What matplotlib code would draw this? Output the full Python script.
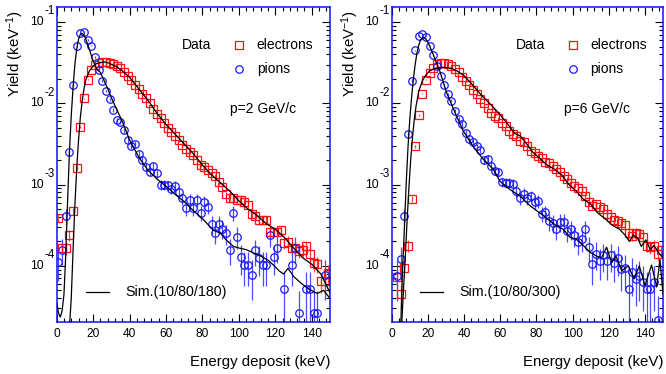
import matplotlib
matplotlib.use("Agg")
import matplotlib.pyplot as plt
import numpy as np
from matplotlib.ticker import MultipleLocator, LogLocator, NullFormatter

plt.rcParams["font.family"] = "Liberation Sans"
plt.rcParams["mathtext.fontset"] = "custom"
plt.rcParams["mathtext.rm"] = "Liberation Sans"
plt.rcParams["mathtext.it"] = "Liberation Sans:italic"

# bin centres in keV (2 keV bins)
bin_centres = np.arange(1, 150, 2)

# log10(yield), nan = bin below the frame
e_2gev_log = [
    -3.41, -3.78, -3.78, -3.62, -3.33, -2.80, -2.29, -1.94, -1.71, -1.59,
    -1.53, -1.50, -1.49, -1.49, -1.50, -1.52, -1.54, -1.57, -1.61, -1.66,
    -1.71, -1.77, -1.82, -1.88, -1.94, -2.00, -2.07, -2.13, -2.18, -2.24,
    -2.30, -2.35, -2.40, -2.45, -2.51, -2.56, -2.60, -2.64, -2.70, -2.76,
    -2.78, -2.82, -2.86, -2.90, -2.97, -3.03, -3.12, -3.16, -3.17, -3.19,
    -3.19, -3.22, -3.25, -3.36, -3.38, -3.44, -3.43, -3.44, -3.58, -3.58,
    -3.58, -3.56, -3.72, -3.70, -3.78, -3.78, -3.82, -3.80, -3.76, -3.85,
    -3.97, -3.98, -4.19, -4.19, -4.09,
]
pi_2gev_log = [
    -3.95, -3.80, -3.39, -2.60, -1.77, -1.30, -1.13, -1.12, -1.22, -1.29,
    -1.43, -1.59, -1.72, -1.85, -1.95, -2.08, -2.21, -2.23, -2.33, -2.45,
    -2.52, -2.50, -2.62, -2.70, -2.78, -2.84, -2.77, -2.86, -3.00, -3.00,
    -3.01, -3.05, -3.02, -3.09, -3.17, -3.29, -3.19, -3.29, -3.19, -3.35,
    -3.21, -3.27, -3.48, -3.59, -3.48, -3.54, -3.60, -3.80, -3.35, -3.64,
    -3.89, -3.99, -3.99, -4.11, -3.81, -3.90, -3.99, -3.99, -3.62, -3.89,
    -3.78, np.nan, -4.29, np.nan, -3.99, -3.78, -4.58, np.nan, -4.29, -4.29,
    -4.58, -4.58, np.nan, -4.11, np.nan,
]
e_6gev_log = [
    np.nan, -4.14, -4.35, -4.02, -3.75, -3.18, -2.53, -2.14, -1.88, -1.71,
    -1.63, -1.56, -1.52, -1.51, -1.51, -1.52, -1.54, -1.58, -1.62, -1.67,
    -1.73, -1.77, -1.83, -1.89, -1.95, -1.99, -2.06, -2.12, -2.16, -2.18,
    -2.24, -2.28, -2.34, -2.38, -2.40, -2.46, -2.48, -2.53, -2.59, -2.61,
    -2.65, -2.67, -2.72, -2.74, -2.77, -2.81, -2.85, -2.89, -2.93, -2.98,
    -3.02, -3.04, -3.08, -3.14, -3.22, -3.26, -3.24, -3.28, -3.30, -3.36,
    -3.40, -3.43, -3.45, -3.47, -3.50, -3.59, -3.63, -3.59, -3.61, -3.65,
    -3.75, -3.77, -3.75, -3.85, -3.81,
]
pi_6gev_log = [
    np.nan, -4.12, -3.92, -3.38, -2.38, -1.72, -1.35, -1.17, -1.15, -1.18,
    -1.29, -1.41, -1.54, -1.66, -1.78, -1.89, -1.97, -2.09, -2.19, -2.26,
    -2.36, -2.44, -2.48, -2.53, -2.57, -2.70, -2.68, -2.77, -2.83, -2.85,
    -2.97, -2.98, -2.98, -2.99, -3.08, -3.17, -3.11, -3.17, -3.14, -3.22,
    -3.20, -3.36, -3.34, -3.45, -3.47, -3.55, -3.46, -3.46, -3.57, -3.55,
    -3.62, -3.70, -3.67, -3.55, -3.77, -3.98, -3.85, -3.94, -3.87, -3.94,
    -3.87, -3.96, -3.90, -4.04, -4.03, -4.28, -4.08, -4.16, -4.12, -4.20,
    -4.28, -4.28, -4.20, -4.67, np.nan,
]

# simulation curves: energy (keV) and log10(yield)
sim_e_2gev_x = [7, 8, 9, 10, 11, 12, 13, 14, 15, 16, 18, 20, 22, 24, 26, 28,
                30, 33, 36, 40, 45, 50, 55, 60, 65, 70, 75, 80, 85, 90, 95,
                100, 105, 110, 115, 120, 125, 130, 135, 140, 145, 150]
sim_e_2gev_log = [-4.75, -4.40, -3.80, -3.25, -2.80, -2.45, -2.17, -1.97,
                  -1.82, -1.71, -1.60, -1.54, -1.51, -1.50, -1.49, -1.50,
                  -1.52, -1.55, -1.60, -1.68, -1.82, -1.96, -2.12, -2.26,
                  -2.38, -2.50, -2.62, -2.76, -2.88, -2.98, -3.08, -3.20,
                  -3.30, -3.38, -3.48, -3.55, -3.65, -3.78, -3.90, -3.98,
                  -4.10, -4.33]
sim_pi_2gev_x = [0, 1, 2, 3, 4, 5, 6, 7, 8, 9, 10, 11, 12, 13, 14, 15, 16,
                 18, 20, 22, 24, 26, 28, 30, 33, 36, 40, 45, 50, 55, 60, 65,
                 70, 75, 80, 86, 90, 93, 97, 100, 104, 108, 112, 116, 119,
                 122, 124.5, 127, 130, 134, 138, 143, 146.5, 150]
sim_pi_2gev_log = [-4.45, -4.58, -4.63, -4.55, -4.35, -3.85, -3.20, -2.60,
                   -2.15, -1.80, -1.52, -1.33, -1.21, -1.15, -1.14, -1.16,
                   -1.21, -1.34, -1.48, -1.58, -1.62, -1.72, -1.82, -1.93,
                   -2.08, -2.22, -2.45, -2.66, -2.82, -2.93, -3.02, -3.12,
                   -3.21, -3.32, -3.42, -3.56, -3.60, -3.68, -3.76, -3.78,
                   -3.80, -3.84, -3.88, -3.93, -3.99, -4.06, -4.10, -4.03,
                   -4.13, -4.21, -4.28, -4.34, -4.30, -4.40]
sim_e_6gev_x = [5.5, 6.5, 7.5, 8.5, 9.5, 10.5, 11.5, 12.5, 13.5, 15, 17, 19,
                21, 24, 27, 30, 33, 36, 40, 45, 50, 55, 60, 65, 68, 71, 74,
                78, 82, 86, 90, 94, 98, 102, 106, 110, 114, 118, 122, 126,
                129, 131.5, 133.5, 136, 138, 140.5, 143, 145, 148, 150]
sim_e_6gev_log = [-4.75, -4.30, -3.90, -3.45, -3.05, -2.70, -2.42, -2.20,
                  -2.03, -1.85, -1.72, -1.65, -1.60, -1.57, -1.56, -1.56,
                  -1.57, -1.60, -1.66, -1.78, -1.91, -2.02, -2.14, -2.28,
                  -2.37, -2.40, -2.48, -2.60, -2.68, -2.76, -2.81, -2.88,
                  -3.00, -3.08, -3.18, -3.24, -3.35, -3.42, -3.50, -3.55,
                  -3.62, -3.70, -3.62, -3.66, -3.76, -3.68, -3.80, -3.75,
                  -3.85, -3.90]
sim_pi_6gev_x = [5, 6, 7, 8, 9, 10, 11, 12, 13, 14, 15, 16, 17.5, 19, 20.5,
                 23, 26.7, 30.4, 35.9, 39.6, 45, 50.7, 56.2, 59.9, 65.4,
                 70.9, 76.5, 83.8, 91.2, 94.9, 98.6, 102, 106, 109.6, 113.3,
                 116, 118.8, 121.6, 124, 127.2, 130.8, 134, 136.9, 140,
                 143.7, 146.5, 148.3, 150]
sim_pi_6gev_log = [-4.75, -4.05, -3.55, -3.00, -2.55, -2.20, -1.93, -1.70,
                   -1.52, -1.38, -1.28, -1.22, -1.19, -1.21, -1.27, -1.40,
                   -1.61, -1.87, -2.16, -2.34, -2.53, -2.69, -2.81, -2.96,
                   -3.06, -3.14, -3.26, -3.38, -3.51, -3.55, -3.65, -3.67,
                   -3.75, -3.83, -3.88, -3.90, -3.77, -3.96, -3.88, -4.06,
                   -4.00, -4.16, -4.00, -4.24, -3.99, -4.26, -3.92, -4.35]

# counts per unit yield, for the Poisson error bars
e_counts_norm = 2.0e5
pi_counts_norm = 5.0e4

decades = [-4, -3, -2, -1]
frame_blue = "#1010ff"


def draw_panel(ax, e_log, pi_log, sim_e, sim_pi, momentum_text, sim_text):
    e_y = 10.0 ** np.asarray(e_log)
    pi_y = 10.0 ** np.asarray(pi_log)
    e_err = np.sqrt(e_y / e_counts_norm)
    pi_err = np.sqrt(pi_y / pi_counts_norm)

    ax.set_yscale("log", nonpositive="clip")
    ax.errorbar(bin_centres, e_y, yerr=e_err, fmt="s", ms=5.2, mfc="none",
                mec="#ff1010", mew=0.9, ecolor="#ff4040", elinewidth=0.9,
                capsize=0, zorder=2)
    ax.errorbar(bin_centres, pi_y, yerr=pi_err, fmt="o", ms=5.4, mfc="none",
                mec="#1a1aff", mew=0.9, ecolor="#4a4aff", elinewidth=0.9,
                capsize=0, zorder=2)
    ax.plot(sim_e[0], 10.0 ** np.asarray(sim_e[1]), color="black", lw=0.9,
            zorder=3)
    ax.plot(sim_pi[0], 10.0 ** np.asarray(sim_pi[1]), color="black", lw=0.9,
            zorder=3)

    ax.set_xlim(0, 150)
    ax.set_ylim(2.04e-5, 0.153)
    ax.xaxis.set_major_locator(MultipleLocator(20))
    ax.xaxis.set_minor_locator(MultipleLocator(4))
    ax.yaxis.set_major_locator(LogLocator(base=10, numticks=10))
    ax.yaxis.set_minor_locator(LogLocator(base=10, subs=np.arange(2, 10),
                                          numticks=20))
    ax.yaxis.set_major_formatter(NullFormatter())
    ax.yaxis.set_minor_formatter(NullFormatter())
    ax.tick_params(which="both", direction="in", top=True, right=True,
                   color="black", width=0.8)
    ax.tick_params(which="major", length=6)
    ax.tick_params(which="minor", length=3)
    ax.tick_params(axis="x", labelsize=8.6, pad=4)
    for spine in ax.spines.values():
        spine.set_color(frame_blue)
        spine.set_linewidth(1.1)

    # ROOT style decade labels: "10" with the exponent raised above
    for d in decades:
        ax.annotate("10", xy=(0, 10.0 ** d), xycoords=("axes fraction", "data"),
                    xytext=(-9.6, 0), textcoords="offset points",
                    ha="right", va="center", fontsize=8.8)
        ax.annotate(str(d), xy=(0, 10.0 ** d),
                    xycoords=("axes fraction", "data"),
                    xytext=(-8.6, 7.6), textcoords="offset points",
                    ha="left", va="center", fontsize=8.4)

    ax.set_xlabel("Energy deposit (keV)", fontsize=10.8, ha="right", va="center")
    ax.xaxis.set_label_coords(1.0, -0.127)
    ax.text(-0.153, 0.99, "Yield (keV$^{-1}$)", transform=ax.transAxes,
            rotation=90, ha="center", va="top", fontsize=10.8)

    # in-frame legend
    ax.text(0.458, 0.879, "Data", transform=ax.transAxes, ha="left",
            va="center", fontsize=10)
    ax.plot([0.668], [0.879], "s", transform=ax.transAxes, ms=5.2, mfc="none",
            mec="#ff1010", mew=0.9, clip_on=False)
    ax.text(0.732, 0.879, "electrons", transform=ax.transAxes, ha="left",
            va="center", fontsize=10)
    ax.plot([0.668], [0.803], "o", transform=ax.transAxes, ms=5.4, mfc="none",
            mec="#1a1aff", mew=0.9, clip_on=False)
    ax.text(0.732, 0.803, "pions", transform=ax.transAxes, ha="left",
            va="center", fontsize=10)
    ax.text(0.634, 0.675, momentum_text, transform=ax.transAxes, ha="left",
            va="center", fontsize=10)
    ax.plot([0.106, 0.19], [0.096, 0.096], color="black", lw=0.9,
            transform=ax.transAxes)
    ax.text(0.251, 0.096, sim_text, transform=ax.transAxes, ha="left",
            va="center", fontsize=10.3)


def main():
    fig = plt.figure(figsize=(6.66, 3.74), dpi=100)
    ax_left = fig.add_axes([0.0851, 0.139, 0.4104, 0.8422])
    ax_right = fig.add_axes([0.5881, 0.139, 0.4074, 0.8422])

    draw_panel(ax_left, e_2gev_log, pi_2gev_log,
               (sim_e_2gev_x, sim_e_2gev_log), (sim_pi_2gev_x, sim_pi_2gev_log),
               "p=2 GeV/c", "Sim.(10/80/180)")
    draw_panel(ax_right, e_6gev_log, pi_6gev_log,
               (sim_e_6gev_x, sim_e_6gev_log), (sim_pi_6gev_x, sim_pi_6gev_log),
               "p=6 GeV/c", "Sim.(10/80/300)")

    fig.savefig("out.png", dpi=100)
    plt.close(fig)


if __name__ == "__main__":
    main()
